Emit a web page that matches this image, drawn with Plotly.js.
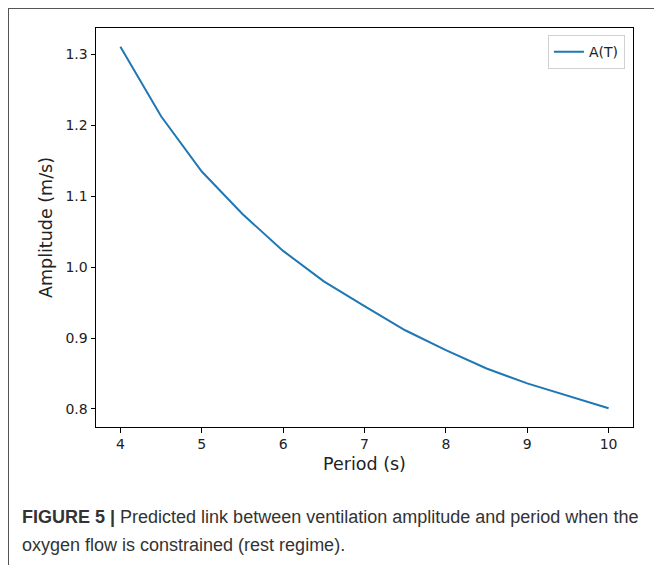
<!DOCTYPE html>
<html>
<head>
<meta charset="utf-8">
<script src="https://cdn.plot.ly/plotly-3.0.1.min.js"></script>
<style>
  html, body { margin: 0; padding: 0; background: #fff; }
  #wrap { position: relative; width: 654px; height: 565px; overflow: hidden; }
  #chart { position: absolute; left: 0; top: 0; width: 654px; height: 565px; }
  #frame { position: absolute; left: 8px; top: 8px; width: 660px; height: 600px;
           border-top: 1.5px solid #555; border-left: 1.5px solid #555; pointer-events: none; }
  .cap { position: absolute; left: 22px; font-family: "Liberation Sans", Arial, sans-serif;
         font-size: 18px; color: #333; white-space: nowrap; letter-spacing: 0px; }
</style>
</head>
<body>
<div id="wrap">
  <div id="chart"></div>
  <div id="frame"></div>
  <div class="cap" id="cap1" style="top:507px;"><b>FIGURE 5 |</b> Predicted link between ventilation amplitude and period when the</div>
  <div class="cap" id="cap2" style="top:535px;">oxygen flow is constrained (rest regime).</div>
</div>
<script>
const period = [4, 4.5, 5, 5.5, 6, 6.5, 7, 7.5, 8, 8.5, 9, 9.5, 10];
const amplitude = [1.311, 1.213, 1.135, 1.075, 1.023, 0.980, 0.945, 0.911, 0.883, 0.857, 0.836, 0.818, 0.801];
const seriesName = "A(T)";
const xTicks = [4, 5, 6, 7, 8, 9, 10];
const yTicks = [0.8, 0.9, 1.0, 1.1, 1.2, 1.3];
const yTickText = ["0.8", "0.9", "1.0", "1.1", "1.2", "1.3"];

const tickFont = { family: "DejaVu Sans", size: 14, color: "#222" };
const titleFont = { family: "DejaVu Sans", size: 17.5, color: "#222" };

const trace = {
  x: period, y: amplitude, type: "scatter", mode: "lines", name: seriesName,
  line: { color: "#1f77b4", width: 2 }
};

const layout = {
  width: 654, height: 565,
  margin: { l: 96, r: 21, t: 28, b: 138 },
  paper_bgcolor: "#fff", plot_bgcolor: "#fff",
  showlegend: true,
  legend: {
    x: 0.985, y: 0.982, xanchor: "right", yanchor: "top",
    bgcolor: "#fff", bordercolor: "#d0d0d0", borderwidth: 1,
    font: { family: "DejaVu Sans", size: 14, color: "#222" },
    itemwidth: 30
  },
  xaxis: {
    range: [3.7, 10.3], tickvals: xTicks, ticktext: xTicks.map(String),
    showgrid: false, zeroline: false, showline: true, mirror: true,
    linecolor: "#000", linewidth: 1, ticks: "outside", ticklen: 4.5, tickcolor: "#000",
    tickfont: tickFont,
    title: { text: "Period (s)", font: titleFont, standoff: 6 }
  },
  yaxis: {
    range: [0.7745, 1.3375], tickvals: yTicks, ticktext: yTickText,
    showgrid: false, zeroline: false, showline: true, mirror: true,
    linecolor: "#000", linewidth: 1, ticks: "outside", ticklen: 4.5, tickcolor: "#000",
    tickfont: tickFont,
    title: { text: "Amplitude (m/s)", font: titleFont, standoff: 8 }
  }
};

Plotly.newPlot("chart", [trace], layout, { displayModeBar: false, staticPlot: true });
</script>
</body>
</html>
